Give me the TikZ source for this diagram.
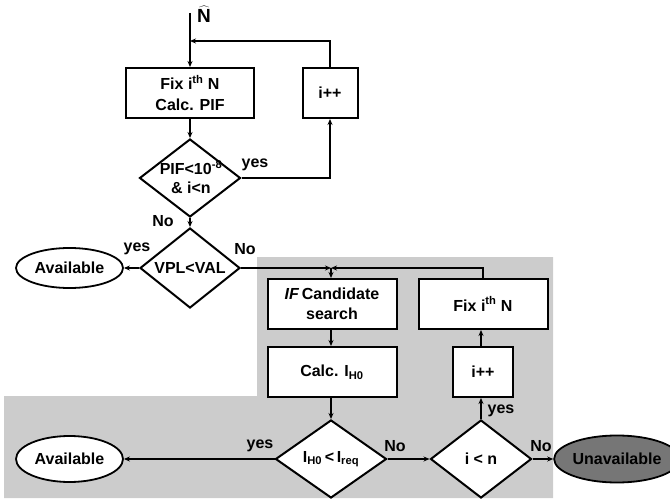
\documentclass[tikz,border=0pt]{standalone}
\usepackage{fontspec}
\setmainfont{Liberation Sans}
\usetikzlibrary{shapes.geometric,arrows.meta}
\definecolor{bg}{HTML}{CCCCCC}
\definecolor{dark}{HTML}{767676}
\begin{document}
\begin{tikzpicture}[x=1pt,y=-1pt,
  every node/.style={font=\bfseries\fontsize{16}{20}\selectfont},
  box/.style={draw, line width=2pt, fill=white, inner sep=0pt, align=center, minimum height=50pt},
  dia/.style={draw, diamond, line width=2pt, fill=white, inner sep=0pt},
  term/.style={draw, ellipse, line width=1.8pt, fill=white, inner sep=0pt},
  txt/.style={inner sep=0pt, align=center},
  conn/.style={line width=1.5pt, -{Stealth[length=6pt,width=5pt]}},
  plain/.style={line width=1.5pt}
]
\useasboundingbox (0,0) rectangle (670,500);
% grey region
\fill[bg] (257,257) -- (553,257) -- (553,498) -- (4,498) -- (4,396) -- (257,396) -- cycle;

% top part
\coordinate (top) at (190,13);
\coordinate (j1) at (190,41);
\node[txt, font=\fontsize{19}{19}\selectfont] (nhat) at (204,14) {$\widehat{\mathbf{N}}$};
\node[box, minimum width=128pt] (box1) at (190,93) {Fix i\textsuperscript{th} N\\[1pt]Calc. PIF};
\node[box, minimum width=55pt] (ipp1) at (330,93) {i++};
\node[dia, minimum width=101pt, minimum height=78pt] (d1) at (190,178) {};
\node[txt, font=\bfseries\fontsize{16}{19}\selectfont] (d1t) at (191,177) {PIF<10\textsuperscript{-8}\\\& i<n};
\node[dia, minimum width=100pt, minimum height=80pt] (d2) at (190,268) {};
\node[txt] (d2t) at (d2) {VPL<VAL};
\node[term, minimum width=107pt, minimum height=40pt] (av1) at (69.5,268) {Available};

% grey part
\coordinate (j2) at (331,268);
\node[box, minimum width=129pt] (ifc) at (332,304) {\textit{IF}\,Candidate\\search};
\node[box, minimum width=129pt] (calc) at (332,372) {Calc. I\textsubscript{H0}};
\node[box, minimum width=129pt] (fix2) at (483,304) {Fix i\textsuperscript{th} N};
\node[box, minimum width=60pt] (ipp2) at (483,372) {i++};
\node[dia, minimum width=111pt, minimum height=78pt] (d3) at (331,459) {};
\node[txt] (d3t) at (d3) {I\textsubscript{H0}\,<\,I\textsubscript{req}};
\node[dia, minimum width=101pt, minimum height=78pt] (d4) at (481,459) {};
\node[txt] (d4t) at (d4) {i < n};
\node[term, minimum width=107pt, minimum height=46pt] (av2) at (69.5,459) {Available};
\node[term, fill=dark, minimum width=104pt, minimum height=47pt] (unav) at (617,459) {Unavailable};

% labels
\node[txt] (l1) at (255,165) {yes};
\node[txt] (l2) at (163,221) {No};
\node[txt] (l3) at (137,249) {yes};
\node[txt] (l4) at (245,249) {No};
\node[txt] (l5) at (260,446) {yes};
\node[txt] (l6) at (395,446) {No};
\node[txt] (l7) at (501,411) {yes};
\node[txt] (l8) at (541,446) {No};

% connectors
\draw[conn] (top) -- (box1.north);
\draw[conn] (ipp1.north) |- (j1);
\draw[conn] (box1.south) -- (d1.north);
\draw[conn] (d1.east) -| (ipp1.south);
\draw[conn] (d1.south) -- (d2.north);
\draw[conn] (d2.west) -- (av1.east);
\draw[conn] (d2.east) -- (j2);
\draw[conn] (fix2.north) |- (j2);
\draw[conn] (j2) -- (ifc.north -| j2);
\draw[conn] (ifc.south -| j2) -- (calc.north -| j2);
\draw[conn] (calc.south -| j2) -- (d3.north);
\draw[conn] (d3.west) -- (av2.east);
\draw[conn] (d3.east) -- (d4.west);
\draw[conn] (d4.east) -- (unav.west);
\draw[conn] (d4.north) -- (ipp2.south -| d4.north);
\draw[conn] (ipp2.north -| d4.north) -- (fix2.south -| d4.north);
\end{tikzpicture}
\end{document}
